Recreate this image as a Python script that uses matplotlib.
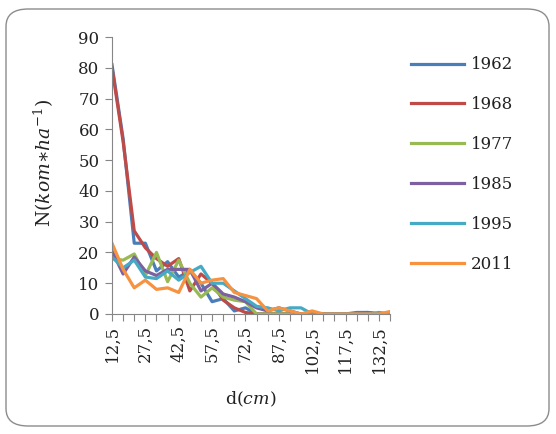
import matplotlib
matplotlib.use("Agg")
import matplotlib.pyplot as plt
from matplotlib.patches import FancyBboxPatch

plt.rcParams['font.family'] = ['DejaVu Serif']
plt.rcParams['mathtext.fontset'] = 'dejavuserif'

# diameter classes (cm)
d = [12.5 + 5 * i for i in range(26)]
labels = [str(v).replace('.', ',') if i % 3 == 0 else '' for i, v in enumerate(d)]

y1962 = [81, 57, 23, 23, 14, 17, 12, 14, 10, 4, 5, 1, 2, 0, 0, 0, 0, 0, 0, 0, 0, 0, 0.5, 0.5, 0, 0]
y1968 = [80, 56, 27, 21.5, 18, 15.5, 18, 7.5, 13, 10, 4.5, 2, 0.5, 0, 0, 0, 0, 0, 0, 0, 0, 0, 0, 0, 0, 0]
y1977 = [18, 17.5, 19.5, 12.5, 20, 10.5, 17.5, 10, 5.5, 8.5, 5.5, 4.5, 4, 0, 0, 0, 0, 0, 0, 0, 0, 0, 0, 0, 0, 0]
y1985 = [20.5, 13, 18.5, 14, 12.5, 14.5, 14.5, 14.5, 7.5, 10, 6.5, 5.5, 4, 2, 1, 2, 1, 0, 0, 0, 0, 0, 0, 0.5, 0, 0]
y1995 = [18.5, 15, 17.5, 12, 11.5, 14, 11, 13.5, 15.5, 10, 10, 7.5, 5, 2.5, 2, 1, 2, 2, 0, 0, 0, 0, 0, 0, 0.5, 0]
y2011 = [23, 14.5, 8.5, 11, 8, 8.5, 7, 14.5, 10, 11, 11.5, 7, 6, 5, 1, 2, 1, 0, 1, 0, 0, 0, 0, 0, 0, 0.8]

series = [
    ('1962', y1962, '#4A7EBB'),
    ('1968', y1968, '#BE4B48'),
    ('1977', y1977, '#98B954'),
    ('1985', y1985, '#7D60A0'),
    ('1995', y1995, '#46AAC5'),
    ('2011', y2011, '#F69240'),
]

fig = plt.figure(figsize=(5.56, 4.34), dpi=100)
border = FancyBboxPatch((6 / 556, 8 / 434), 543 / 556, 417 / 434,
                        boxstyle="round,pad=0,rounding_size=0.04",
                        transform=fig.transFigure, fill=False,
                        edgecolor='#8c8c8c', linewidth=1.0)
fig.patches.append(border)

ax = fig.add_axes([112 / 556, 1 - 314 / 434, 278 / 556, 277 / 434])
x = list(range(len(d)))
for name, vals, col in series:
    ax.plot(x, vals, color=col, linewidth=2.3, label=name, solid_joinstyle='round')

ax.set_xlim(0, len(d) - 1)
ax.set_ylim(0, 90)
ax.set_yticks(range(0, 91, 10))
ax.set_xticks(x)
ax.set_xticklabels(labels, rotation=90, fontsize=12)
ax.tick_params(axis='y', labelsize=12, length=5, color='#868686', pad=4, labelcolor='#222222')
ax.tick_params(axis='x', length=5, color='#868686', pad=3, labelcolor='#222222')
for s in ['top', 'right']:
    ax.spines[s].set_visible(False)
for s in ['left', 'bottom']:
    ax.spines[s].set_color('#868686')

ax.set_ylabel(r'N($\mathit{kom{\ast}ha}^{-1}$)', fontsize=13.5, color='#222222')
ax.set_xlabel(r'd($\mathit{cm}$)', fontsize=12.5, color='#222222')
ax.yaxis.set_label_coords(-0.2, 0.545)
ax.xaxis.set_label_coords(0.5, -0.275)

leg = ax.legend(loc='upper left', bbox_to_anchor=(1.045, 0.96), frameon=False,
                fontsize=12, handlelength=3.2, labelspacing=1.37, handletextpad=0.4,
                borderpad=0)
for t in leg.get_texts():
    t.set_color('#222222')

fig.savefig('out.png', dpi=100)
